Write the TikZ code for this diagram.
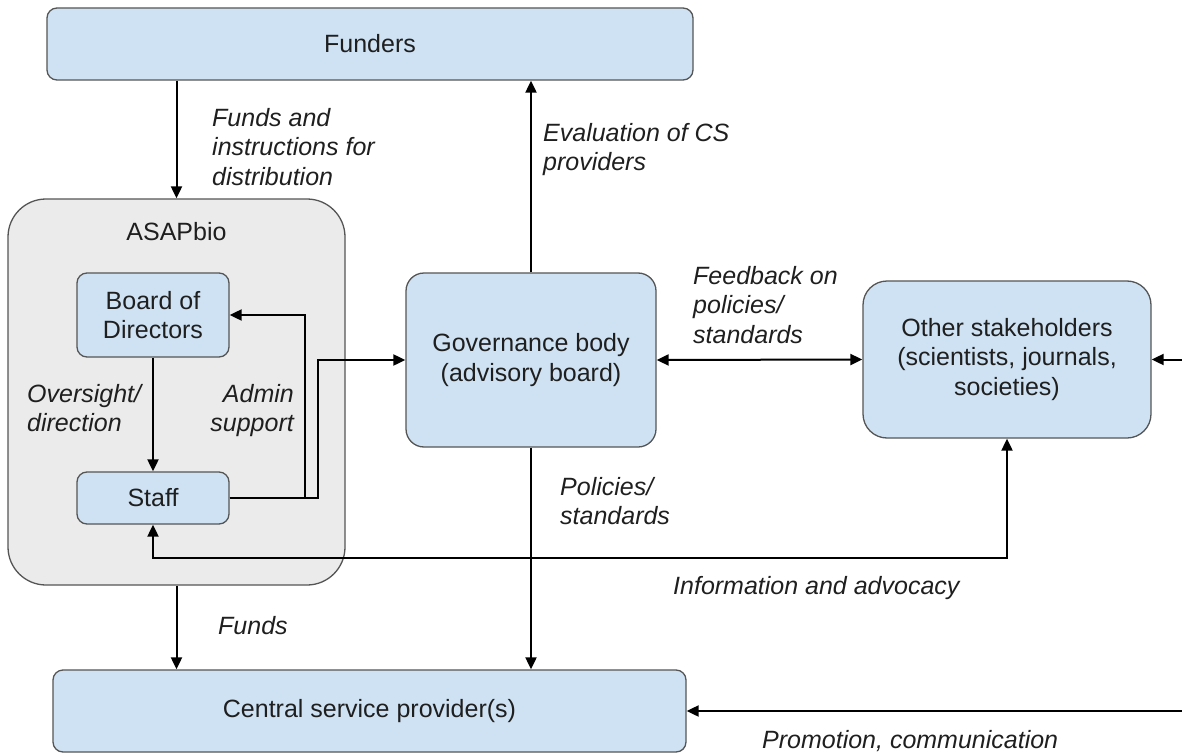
\documentclass[tikz,border=0pt]{standalone}
\usepackage{fontspec}
\setmainfont{Liberation Sans}
\usetikzlibrary{arrows.meta}
\definecolor{boxblue}{HTML}{CFE2F3}
\definecolor{groupgray}{HTML}{EBEBEB}
\definecolor{edgegray}{HTML}{555555}
\definecolor{inkgray}{HTML}{1F1F1F}
\begin{document}
\begin{tikzpicture}[x=1pt,y=-1pt,
  font=\fontsize{25}{29.5}\selectfont,
  box/.style={draw=edgegray, line width=1.3pt, fill=boxblue, rounded corners=#1,
    align=center, inner sep=0pt, text=inkgray},
  box/.default=10pt,
  group/.style={draw=edgegray, line width=1.3pt, fill=groupgray, rounded corners=38pt, inner sep=0pt},
  arr/.style={line width=2pt, draw=black, -{Triangle[length=12pt,width=11pt]}},
  dblarr/.style={line width=2pt, draw=black, {Triangle[length=12pt,width=11pt]}-{Triangle[length=12pt,width=11pt]}},
  lab/.style={font=\fontsize{25}{29.5}\selectfont\itshape, align=left, anchor=north west,
    inner sep=0pt, text=inkgray},
  labr/.style={lab, align=right, anchor=north east}
]
\useasboundingbox (0,0) rectangle (1182,754);

% ASAPbio group
\node[group, minimum width=337pt, minimum height=386pt] (asap) at (176.5,392) {};
\node[text=inkgray, inner sep=0pt] (asaplabel) at (176.5,232) {ASAPbio};

% Boxes
\node[box, minimum width=646pt, minimum height=72pt] (funders) at (370,44) {Funders};
\node[box, minimum width=152pt, minimum height=84pt] (board) at (153,315) {Board of\\Directors};
\node[box, minimum width=152pt, minimum height=52pt] (staff) at (153,498) {Staff};
\node[box=18pt, minimum width=250pt, minimum height=174pt] (gov) at (531,360) {Governance body\\(advisory board)};
\node[box=24pt, minimum width=288pt, minimum height=157pt] (other) at (1007,359.5) {Other stakeholders\\(scientists, journals,\\societies)};
\node[box, minimum width=633pt, minimum height=82pt] (central) at (369.5,711) {Central service provider(s)};

% Free ends and routing rails
\coordinate (edge) at (1182,0);
\coordinate (inforail) at (0,558);

% Connectors
\draw[arr] (asap.north |- funders.south) -- (asap.north);
\draw[arr] (gov.north) -- (gov.north |- funders.south);
\draw[arr] (board) -- (staff);
\draw[arr] (staff.east) -- ++(75,0) |- (board.east);
\draw[arr] (staff.east) -- ++(88,0) |- (gov.west);
\draw[dblarr] (gov.east) -- (other.west);
\draw[arr] (other.east -| edge) -- (other.east);
\draw[dblarr] (other.south) -- (other.south |- inforail) -| (staff.south);
\draw[arr] (asap.south) -- (asap.south |- central.north);
\draw[arr] (gov.south) -- (gov.south |- central.north);
\draw[arr] (central.east -| edge) -- (central.east);

% Connector labels
\node[lab] (lfunds) at (212,108) {Funds and\\instructions for\\distribution};
\node[lab] (leval) at (543,123) {Evaluation of CS\\providers};
\node[lab] (lfeed) at (693,266) {Feedback on\\policies/\\standards};
\node[lab] (lover) at (27,384) {Oversight/\\direction};
\node[labr] (ladmin) at (294,384) {Admin\\support};
\node[lab] (lpol) at (560,477) {Policies/\\standards};
\node[lab] (linfo) at (673,576) {Information and advocacy};
\node[lab] (lfund2) at (218,616) {Funds};
\node[lab] (lpromo) at (762,730) {Promotion, communication};
\end{tikzpicture}
\end{document}
